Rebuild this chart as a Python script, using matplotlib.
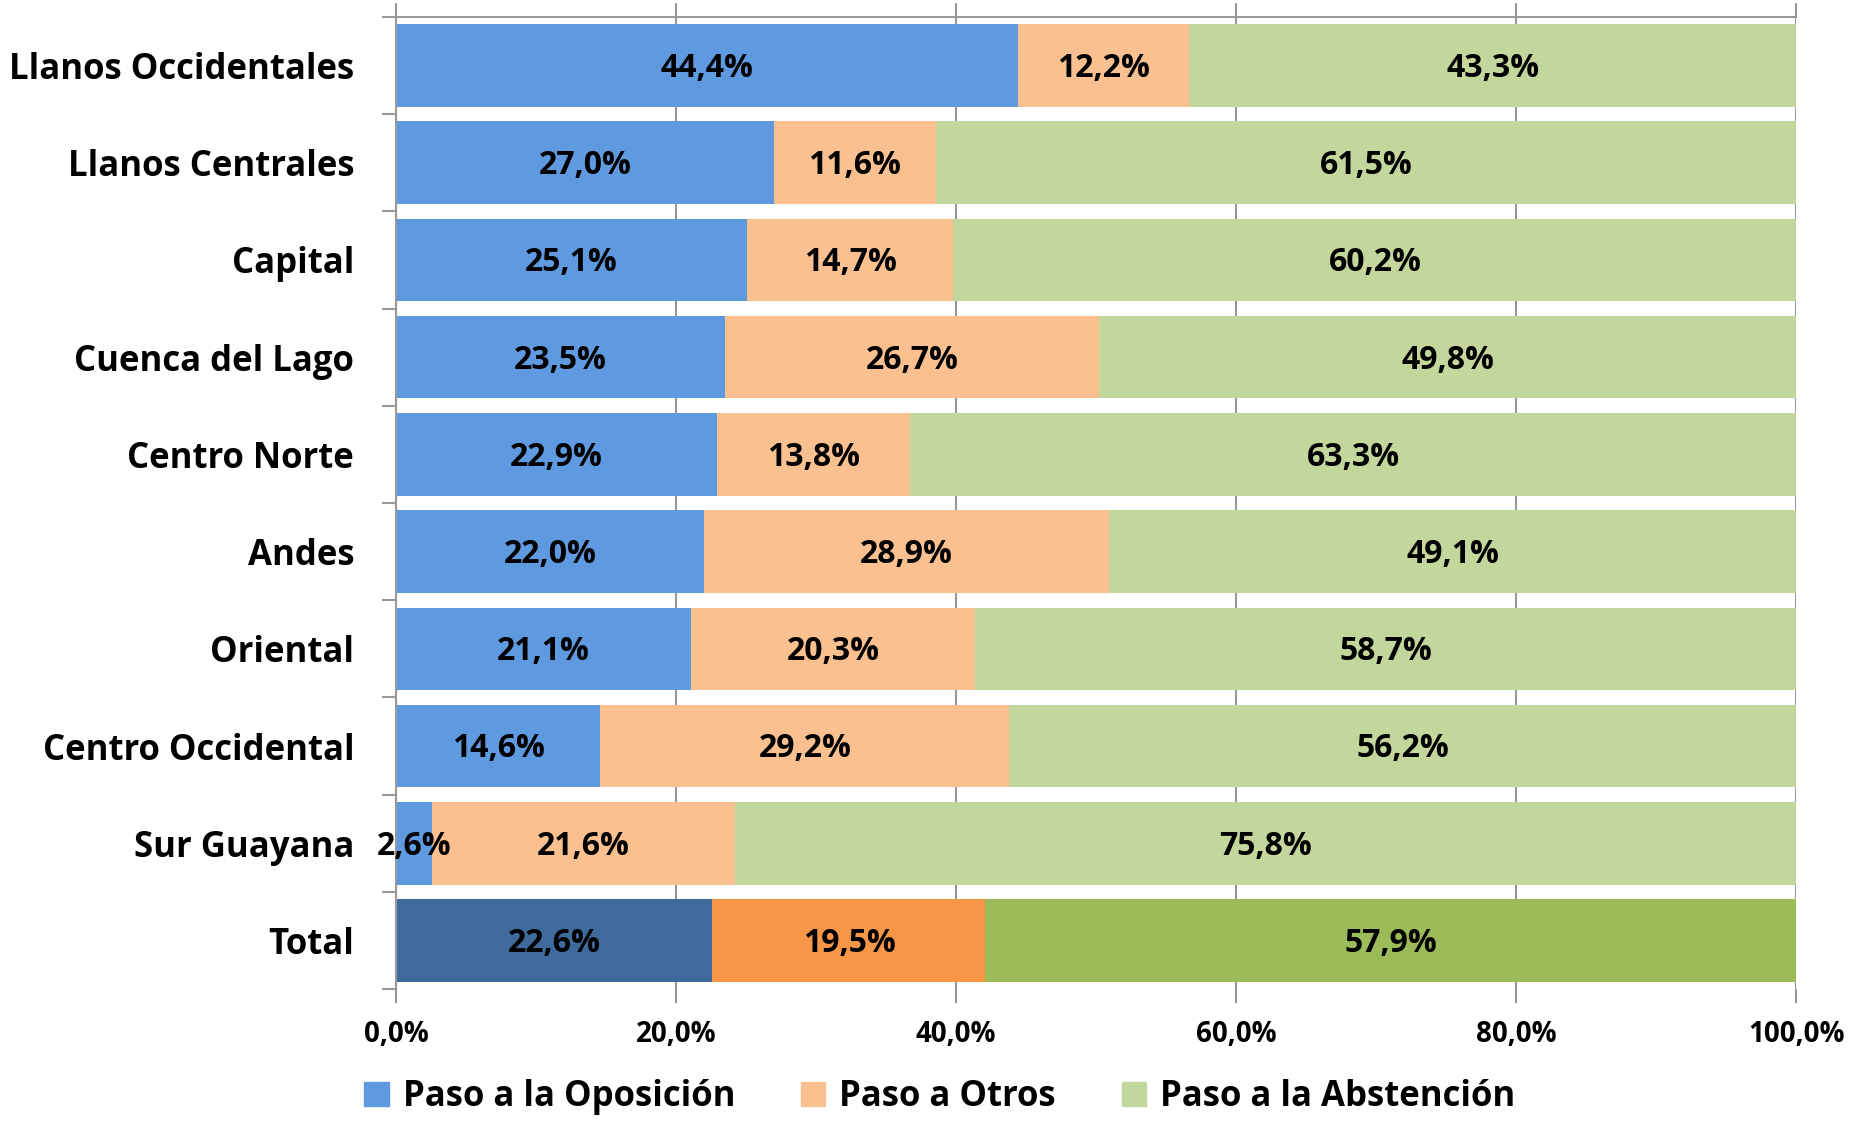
import numpy as np
import matplotlib.pyplot as plt
from matplotlib.patches import Patch

# Datos
regiones = ['Llanos Occidentales', 'Llanos Centrales', 'Capital', 'Cuenca del Lago',
            'Centro Norte', 'Andes', 'Oriental', 'Centro Occidental', 'Sur Guayana', 'Total']
oposicion = [44.4, 27.0, 25.1, 23.5, 22.9, 22.0, 21.1, 14.6, 2.6, 22.6]
otros = [12.2, 11.6, 14.7, 26.7, 13.8, 28.9, 20.3, 29.2, 21.6, 19.5]
abstencion = [43.3, 61.5, 60.2, 49.8, 63.3, 49.1, 58.7, 56.2, 75.8, 57.9]
series = ['Paso a la Oposición', 'Paso a Otros', 'Paso a la Abstención']
xticks = [0, 20, 40, 60, 80, 100]

# Colores (claros para regiones, fuertes para el total)
claros = ['#5f9ae0', '#fac090', '#c3d69b']
fuertes = ['#3e6a9c', '#f79646', '#9bbb59']

plt.rcParams['font.family'] = ['Open Sans', 'DejaVu Sans']

fig = plt.figure(figsize=(18.5, 11.24), dpi=100)
ax = fig.add_axes([0.214, 0.12, 0.757, 0.865])

datos = np.array([oposicion, otros, abstencion], dtype=float)
porc = datos / datos.sum(axis=0) * 100  # grafico 100% apilado
n = len(regiones)
y = np.arange(n)

izq = np.zeros(n)
for s in range(3):
    cols = [fuertes[s] if regiones[i] == 'Total' else claros[s] for i in range(n)]
    ax.barh(y, porc[s], left=izq, height=0.85, color=cols, edgecolor='none', zorder=2)
    for i in range(n):
        txt = ('%.1f%%' % datos[s, i]).replace('.', ',')
        ax.text(izq[i] + porc[s, i] / 2, y[i] + 0.03, txt, ha='center', va='center',
                fontsize=23, fontweight='bold', color='black', zorder=3)
    izq += porc[s]

ax.set_xlim(0, 100)
ax.set_ylim(n - 0.5, -0.5)
ax.set_xticks(xticks)
ax.set_xticklabels([('%.1f%%' % v).replace('.', ',') for v in xticks],
                   fontsize=20, fontweight='bold')
ax.set_yticks(y)
ax.set_yticklabels(regiones, fontsize=25, fontweight='bold')
ax.set_yticks(np.arange(n + 1) - 0.5, minor=True)

ax.grid(axis='x', color='#999999', linewidth=1.5, zorder=0)
ax.tick_params(axis='y', which='major', length=0, pad=30)
ax.tick_params(axis='y', which='minor', length=10, color='#999999', width=1.5)
ax.tick_params(axis='x', length=10, color='#999999', width=1.5, pad=12, top=True)

for lado in ['right', 'bottom']:
    ax.spines[lado].set_visible(False)
ax.spines['left'].set_color('#999999')
ax.spines['left'].set_linewidth(1.5)
ax.spines['top'].set_color('#999999')
ax.spines['top'].set_linewidth(1.5)

manejadores = [Patch(color=claros[s], label=series[s]) for s in range(3)]
fig.legend(handles=manejadores, loc='lower center', bbox_to_anchor=(0.508, -0.02), ncol=3,
           frameon=False, prop={'size': 25, 'weight': 'bold'},
           handlelength=0.7, handleheight=0.7, handletextpad=0.4, columnspacing=1.9)

fig.savefig('out.png', dpi=100)
